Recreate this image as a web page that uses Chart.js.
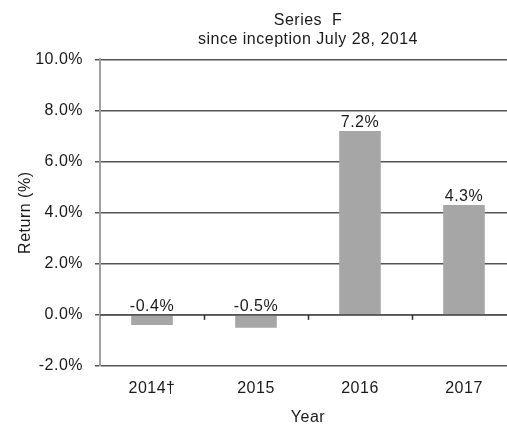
<!DOCTYPE html>
<html>
<head>
<meta charset="utf-8">
<script src="https://cdn.jsdelivr.net/npm/chart.js@4.4.0/dist/chart.umd.min.js"></script>
<style>
  html, body { margin: 0; padding: 0; background: #fff; overflow: hidden; }
  #wrap { width: 507px; height: 424px; overflow: hidden; position: relative; }
  #box { width: 520px; height: 424px; position: absolute; left: 0; top: 0; }
</style>
</head>
<body>
<div id="wrap"><div id="box"><canvas id="c"></canvas></div></div>
<script>
const categories = ["2014\u2020", "2015", "2016", "2017"];
const returns = [-0.4, -0.5, 7.2, 4.3];
const titleLines = ["Series  F", "since inception July 28, 2014"];
const yMin = -2, yMax = 10, yStep = 2;

const FONT = "'Liberation Sans', Arial, sans-serif";
const FS = 16;
const TXT = "#1a1a1a";

const spacing = {
  id: "spacing",
  beforeUpdate(chart) { chart.ctx.letterSpacing = "0.5px"; },
  beforeDraw(chart) { chart.ctx.letterSpacing = "0.5px"; }
};

const barLabels = {
  id: "barLabels",
  afterDatasetsDraw(chart) {
    const ctx = chart.ctx;
    const meta = chart.getDatasetMeta(0);
    const y = chart.scales.y;
    ctx.save();
    ctx.font = FS + "px " + FONT;
    ctx.fillStyle = TXT;
    ctx.textAlign = "center";
    ctx.textBaseline = "alphabetic";
    meta.data.forEach((bar, i) => {
      const v = returns[i];
      const top = y.getPixelForValue(Math.max(v, 0));
      ctx.fillText(v.toFixed(1) + "%", bar.x, top - 4);
    });
    ctx.restore();
  }
};

const zeroTicks = {
  id: "zeroTicks",
  afterDraw(chart) {
    const ctx = chart.ctx;
    const x = chart.scales.x, y = chart.scales.y;
    const y0 = y.getPixelForValue(0);
    ctx.save();
    ctx.strokeStyle = "#555";
    ctx.lineWidth = 1.5;
    ctx.beginPath();
    ctx.moveTo(chart.chartArea.left, y0);
    ctx.lineTo(chart.chartArea.right, y0);
    ctx.stroke();
    const w = x.getPixelForValue(1) - x.getPixelForValue(0);
    ctx.strokeStyle = "#333";
    ctx.lineWidth = 1.5;
    for (let i = 1; i < categories.length; i++) {
      const px = Math.round(x.getPixelForValue(i) - w / 2) + 0.5;
      ctx.beginPath();
      ctx.moveTo(px, y0);
      ctx.lineTo(px, y0 + 5);
      ctx.stroke();
    }
    ctx.restore();
  }
};

new Chart(document.getElementById("c"), {
  type: "bar",
  data: {
    labels: categories,
    datasets: [{
      data: returns,
      backgroundColor: "#a6a6a6",
      borderWidth: 0,
      categoryPercentage: 1,
      barPercentage: 0.4
    }]
  },
  options: {
    responsive: true,
    maintainAspectRatio: false,
    animation: false,
    devicePixelRatio: 1,
    layout: { padding: { top: 11, right: 4, bottom: 0, left: 0 } },
    plugins: {
      legend: { display: false },
      tooltip: { enabled: false },
      title: {
        display: true,
        text: titleLines,
        fullSize: false,
        color: TXT,
        font: { family: FONT, size: FS, weight: "normal", lineHeight: 1.2 },
        padding: { top: 0, bottom: 10 }
      }
    },
    scales: {
      x: {
        afterFit(s) { s.height = 58; },
        grid: { display: false, drawTicks: false },
        border: { display: false },
        ticks: { color: TXT, font: { family: FONT, size: FS }, padding: 13, maxRotation: 0 },
        title: { display: true, text: "Year", color: TXT, font: { family: FONT, size: FS, lineHeight: 0.8 }, padding: { top: 0, bottom: 0 } }
      },
      y: {
        min: yMin, max: yMax,
        afterFit(s) { s.width = 100; },
        ticks: {
          stepSize: yStep,
          color: TXT,
          font: { family: FONT, size: FS },
          padding: 12,
          callback: v => Number(v).toFixed(1) + "%"
        },
        grid: { color: "#555", lineWidth: 1.5, tickLength: 5, tickColor: "#555", drawOnChartArea: true },
        border: { display: true, color: "#a0a0a0", width: 2 },
        title: { display: true, text: "Return (%)", color: TXT, font: { family: FONT, size: FS, lineHeight: 1.2 }, padding: { top: 16, bottom: 0 } }
      }
    }
  },
  plugins: [spacing, barLabels, zeroTicks]
});
</script>
</body>
</html>
